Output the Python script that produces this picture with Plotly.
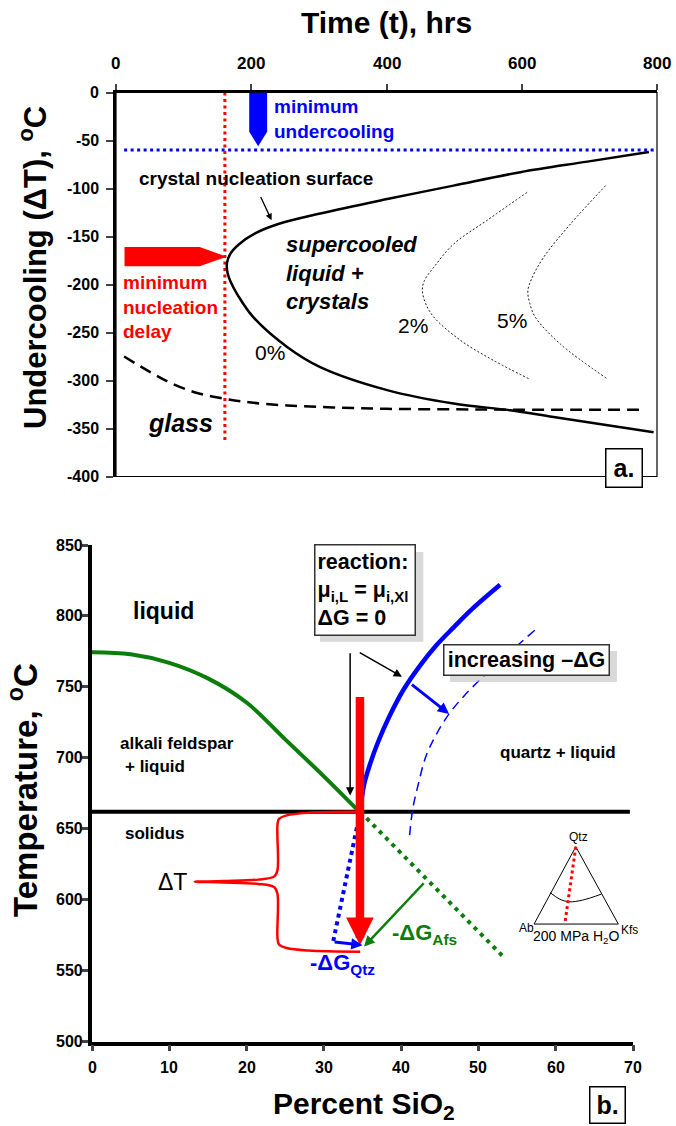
import plotly.graph_objects as go

W, H = 676, 1126
FONT = "Liberation Sans, Arial, Helvetica, sans-serif"

# ---------------- panel a : data ----------------
time_ticks = [0, 200, 400, 600, 800]
time_labels = ["0", "200", "400", "600", "800"]
under_ticks = [-400, -350, -300, -250, -200, -150, -100, -50, 0]
under_labels = ["-400", "-350", "-300", "-250", "-200", "-150", "-100", "-50", "0"]

nuc0_t = [788, 697, 598, 499, 401, 302, 240, 205, 182, 169, 164, 165, 170, 180, 203, 253, 302, 401, 499, 583, 647, 795]
nuc0_dT = [-62, -72, -83, -97, -111, -126, -137, -147, -158, -168, -178, -188, -198, -211, -234, -265, -286, -310, -324, -331, -338, -354]

glass_t = [12, 50, 82, 120, 161, 200, 253, 320, 400, 500, 600, 783]
glass_dT = [-275, -291, -303, -313, -319, -323, -326, -328, -329.5, -330, -330.5, -330.5]

nuc2_t = [608, 549, 499, 470, 456, 453, 458, 470, 509, 558, 610]
nuc2_dT = [-104, -133, -158, -182, -196, -206, -220, -234, -258, -279, -298]

nuc5_t = [724, 672, 632, 614, 609, 612, 620, 657, 726]
nuc5_dT = [-97, -137, -172, -195, -207, -220, -234, -262, -298]

min_undercool_t = [12, 795]
min_undercool_dT = [-60, -60]
min_delay_t = [161, 161]
min_delay_dT = [0, -362]

# ---------------- panel b : data ----------------
sio2_ticks = [0, 10, 20, 30, 40, 50, 60, 70]
sio2_labels = ["0", "10", "20", "30", "40", "50", "60", "70"]
temp_ticks = [500, 550, 600, 650, 700, 750, 800, 850]
temp_labels = ["500", "550", "600", "650", "700", "750", "800", "850"]

afs_x = [0, 5, 10, 15, 20, 25, 30, 34.6]
afs_T = [774.5, 773, 767, 756, 739, 713, 687, 662]

qtz_x = [34.7, 35.2, 36.0, 37.0, 38.5, 40.3, 42.3, 44.5, 46.8, 49.2, 52.8]
qtz_T = [662, 681, 696, 711, 729.5, 748, 764, 779, 792, 805, 822]

qtz2_x = [41.1, 41.5, 42.2, 43.2, 44.5, 46.2, 48.2, 50.2, 52.6, 55.0, 57.3]
qtz2_T = [645.6, 664, 681, 701, 716, 731, 744, 755, 767, 779, 790]

qtz_meta_x = [34.7, 31.2]
qtz_meta_T = [662, 570.4]

afs_meta_x = [34.7, 53.2]
afs_meta_T = [662, 560]

solidus_x = [0, 69.6]
solidus_T = [662, 662]

brace_x = [34.3, 28.0, 25.2, 24.2, 24.0, 24.0, 23.6, 21.5, 17.0, 13.3, 17.0, 21.5, 23.6, 24.0, 24.0, 24.2, 25.2, 28.0, 34.7]
brace_T = [662, 661.3, 659.5, 657, 653, 621, 616.5, 614.2, 613.2, 612.7, 612.2, 611.2, 608.8, 604, 573, 568.5, 566, 564.2, 563.4]

tri_x = [62.6, 57.2, 68.1, 62.6]
tri_T = [637.4, 582.9, 582.9, 637.4]
cot_x = [59.3, 60.5, 61.75, 63.5, 65.9]
cot_T = [605, 600.5, 598.6, 599.8, 604]
tri_path_x = [62.6, 61.2]
tri_path_T = [637.4, 583.9]

fig = go.Figure()

# ---- panel a traces ----
fig.add_trace(go.Scatter(x=min_undercool_t, y=min_undercool_dT, mode="lines",
                         line=dict(color="#0000ff", width=3, dash="3px,3.5px"), xaxis="x", yaxis="y"))
fig.add_trace(go.Scatter(x=min_delay_t, y=min_delay_dT, mode="lines",
                         line=dict(color="#ff0000", width=3, dash="3px,3.5px"), xaxis="x", yaxis="y"))
fig.add_trace(go.Scatter(x=glass_t, y=glass_dT, mode="lines", line_shape="spline",
                         line=dict(color="black", width=2.5, dash="12px,7px"), xaxis="x", yaxis="y"))
fig.add_trace(go.Scatter(x=nuc0_t, y=nuc0_dT, mode="lines", line_shape="spline",
                         line=dict(color="black", width=2.5), xaxis="x", yaxis="y"))
fig.add_trace(go.Scatter(x=nuc2_t, y=nuc2_dT, mode="lines", line_shape="spline",
                         line=dict(color="black", width=0.9, dash="2px,2px"), xaxis="x", yaxis="y"))
fig.add_trace(go.Scatter(x=nuc5_t, y=nuc5_dT, mode="lines", line_shape="spline",
                         line=dict(color="black", width=0.9, dash="2px,2px"), xaxis="x", yaxis="y"))

# ---- panel b traces ----
def b_line(x, y, color, width, dash="solid", shape="spline"):
    fig.add_trace(go.Scatter(x=x, y=y, mode="lines", line_shape=shape,
                             line=dict(color=color, width=width, dash=dash),
                             xaxis="x2", yaxis="y2"))

b_line(solidus_x, solidus_T, "black", 4, shape="linear")
b_line(afs_x, afs_T, "#0a7d0a", 4)
b_line(afs_meta_x, afs_meta_T, "#0a7d0a", 4, dash="4px,5px", shape="linear")
b_line(qtz_meta_x, qtz_meta_T, "#0000ff", 4, dash="4px,4px", shape="linear")
b_line(qtz_x, qtz_T, "#0000ff", 4.5)
b_line(qtz2_x, qtz2_T, "#0000ff", 1.5, dash="9px,6px")
b_line(brace_x, brace_T, "#ff0000", 2.5)
b_line(tri_x, tri_T, "black", 1, shape="linear")
b_line(cot_x, cot_T, "black", 1)
b_line(tri_path_x, tri_path_T, "#ff0000", 3, dash="3px,3px", shape="linear")

# ---------------- layout ----------------
def px2x(px):
    return px / W

def px2y(py):
    return 1 - py / H

common = dict(ticks="outside", showline=True, linecolor="black", showgrid=False,
              zeroline=False, showticklabels=False)
layout = dict(
    width=W, height=H, margin=dict(l=0, r=0, t=0, b=0),
    paper_bgcolor="white", plot_bgcolor="white", showlegend=False,
    font=dict(family=FONT, color="black"),
    xaxis=dict(domain=[px2x(116), px2x(657)], range=[0, 800], side="top", anchor="y",
               tickvals=time_ticks, ticklen=6, tickwidth=2, linewidth=3, **common),
    yaxis=dict(domain=[px2y(476.5), px2y(92.5)], range=[-400, 0], anchor="x",
               tickvals=under_ticks, ticklen=7, tickwidth=2, linewidth=3, **common),
    xaxis2=dict(domain=[px2x(92), px2x(633)], range=[0, 70], anchor="y2",
                tickvals=sio2_ticks, ticklen=6, tickwidth=2.5, linewidth=3.5, **common),
    yaxis2=dict(domain=[px2y(1041.7), px2y(545)], range=[500, 850], anchor="x2",
                tickvals=temp_ticks, ticklen=6, tickwidth=2.5, linewidth=3.5, **common),
)
fig.update_layout(**layout)

shapes = []
# thin frame of panel a
shapes.append(dict(type="rect", xref="x domain", yref="y domain", x0=0, x1=1, y0=0, y1=1,
                   line=dict(color="black", width=1.2), layer="below"))
# block arrows panel a (blue down, red right)
blue_arrow = dict(left=197, right=223.5, top=0, neck=-41, tip=-56)
red_arrow = dict(tail=12.6, neck=123.7, tip=163.7, upper=-161, lower=-181)
ba = blue_arrow
shapes.append(dict(type="path", xref="x", yref="y", fillcolor="#0000ff", line=dict(width=0),
                   path=f"M{ba['left']},{ba['top']} L{ba['right']},{ba['top']} L{ba['right']},{ba['neck']} "
                        f"L{(ba['left'] + ba['right']) / 2},{ba['tip']} L{ba['left']},{ba['neck']} Z"))
ra = red_arrow
shapes.append(dict(type="path", xref="x", yref="y", fillcolor="#ff0000", line=dict(width=0),
                   path=f"M{ra['tail']},{ra['upper']} L{ra['neck']},{ra['upper']} "
                        f"L{ra['tip']},{(ra['upper'] + ra['lower']) / 2} L{ra['neck']},{ra['lower']} "
                        f"L{ra['tail']},{ra['lower']} Z"))
# shadows of the text boxes (panel b)
for (x0, x1, y0, y1) in [(320, 423.3, 552, 641.7), (450, 617, 651, 682)]:
    shapes.append(dict(type="rect", xref="paper", yref="paper",
                       x0=px2x(x0), x1=px2x(x1), y0=px2y(y1), y1=px2y(y0),
                       fillcolor="rgba(185,185,185,0.55)", line=dict(width=0), layer="above"))
fig.update_layout(shapes=shapes)

ann = []

def txt(text, x, y, size, color="black", bold=True, italic=False, xref="x", yref="y",
        xanchor="center", yanchor="middle", align="center", **kw):
    f = dict(family=FONT, size=size, color=color)
    if bold:
        f["weight"] = "bold"
    if italic:
        f["style"] = "italic"
    d = dict(text=text, x=x, y=y, xref=xref, yref=yref, showarrow=False, font=f,
             xanchor=xanchor, yanchor=yanchor, align=align)
    d.update(kw)
    ann.append(d)

def arrow(x, y, ax, ay, color, width, size=1.0, head=2, xref="x2", yref="y2"):
    ann.append(dict(x=x, y=y, ax=ax, ay=ay, xref=xref, yref=yref, axref=xref, ayref=yref,
                    showarrow=True, arrowhead=head, arrowsize=size, arrowwidth=width,
                    arrowcolor=color, text="", standoff=0, startstandoff=0))

# tick labels
for v, lab in zip(time_ticks, time_labels):
    txt(lab, v, px2y(63.5), 17, xref="x", yref="paper")
for v, lab in zip(under_ticks, under_labels):
    txt(lab, px2x(101), v, 16, xref="paper", yref="y", xanchor="right")
for v, lab in zip(sio2_ticks, sio2_labels):
    txt(lab, v, px2y(1067.5), 16, xref="x2", yref="paper")
for v, lab in zip(temp_ticks, temp_labels):
    txt(lab, px2x(85), v, 16, xref="paper", yref="y2", xanchor="right")

# axis titles
txt("Time (t), hrs", px2x(386), px2y(22), 30, xref="paper", yref="paper")
txt("Undercooling (ΔT), <sup>o</sup>C", px2x(33), px2y(268), 31, xref="paper", yref="paper", textangle=-90)
txt("Percent SiO<sub>2</sub>", px2x(364), px2y(1105), 30, xref="paper", yref="paper")
txt("Temperature, <sup>o</sup>C", px2x(23), px2y(790), 33, xref="paper", yref="paper", textangle=-90)

# panel a labels
txt("minimum<br>undercooling", 231, -28, 19, color="#0000ff", xanchor="left", align="left")
txt("minimum<br>nucleation<br>delay", 7, -223, 19, color="#ff0000", xanchor="left", align="left")
txt("crystal nucleation surface", 207, -90, 19)
arrow(230, -133, 213, -107.3, "black", 1.3, size=1.0, xref="x", yref="y")
txt("supercooled<br>liquid +<br>crystals", 248, -188, 22, italic=True, xanchor="left", align="left")
txt("0%", 228, -270.5, 21, bold=False)
txt("2%", 439, -242.7, 21, bold=False)
txt("5%", 586, -237.5, 21, bold=False)
txt("glass", 95, -344.5, 25, italic=True)
txt("a.", px2x(623.7), px2y(468.3), 25, xref="paper", yref="paper",
    bordercolor="black", borderwidth=1.5, borderpad=2, bgcolor="white", width=31, height=33)

# panel b labels
txt("liquid", 9.2, 803.5, 23, xref="x2", yref="y2")
txt("alkali feldspar", 3.4, 710, 17, xref="x2", yref="y2", xanchor="left")
txt("+ liquid", 4.0, 694, 17, xref="x2", yref="y2", xanchor="left")
txt("quartz + liquid", 60.3, 703.6, 17, xref="x2", yref="y2")
txt("solidus", 4.0, 646.8, 17, xref="x2", yref="y2", xanchor="left")
txt("ΔT", 10.4, 612.5, 23, bold=False, xref="x2", yref="y2")
txt("-ΔG<sub>Qtz</sub>", 32.4, 554.5, 22, color="#0000ff", xref="x2", yref="y2")
txt("-ΔG<sub>Afs</sub>", 43.0, 576.0, 22, color="#0a7d0a", xref="x2", yref="y2")
txt("reaction:<br>μ<sub>i,L</sub> = μ<sub>i,Xl</sub><br>ΔG = 0", px2x(364.8), px2y(590.3), 21.5,
    xref="paper", yref="paper", align="left", bordercolor="#333333", borderwidth=1.5, borderpad=2,
    bgcolor="white", width=95, height=85)
txt("increasing –ΔG", px2x(526.7), px2y(660.2), 21.5, xref="paper", yref="paper",
    bordercolor="#333333", borderwidth=1.5, borderpad=2, bgcolor="white", width=160, height=25)
txt("Qtz", 62.9, 644.4, 12, bold=False, xref="x2", yref="y2")
txt("Ab", 56.2, 580, 12, bold=False, xref="x2", yref="y2")
txt("Kfs", 69.6, 579, 12, bold=False, xref="x2", yref="y2")
txt("200 MPa H<sub>2</sub>O", 62.7, 573.5, 14, bold=False, xref="x2", yref="y2")
txt("b.", px2x(607.5), px2y(1104.5), 25, xref="paper", yref="paper",
    bordercolor="black", borderwidth=1.5, borderpad=2, bgcolor="white", width=30, height=31)

# panel b arrows
arrow(34.67, 568, 34.67, 744, "#ff0000", 8.5, size=0.65)
arrow(33.4, 673.5, 33.4, 774.8, "black", 1.5, size=1.1)
arrow(40.1, 757.2, 34.45, 774.8, "black", 1.5, size=1.1)
arrow(46.2, 731, 41.2, 752.4, "#0000ff", 3, size=0.75)
arrow(35.0, 568, 31.2, 570.4, "#0000ff", 3, size=0.75)
arrow(35.2, 567, 43.1, 612.7, "#0a7d0a", 2.5, size=0.85)

fig.update_layout(annotations=ann)
fig.write_html("out.html")
